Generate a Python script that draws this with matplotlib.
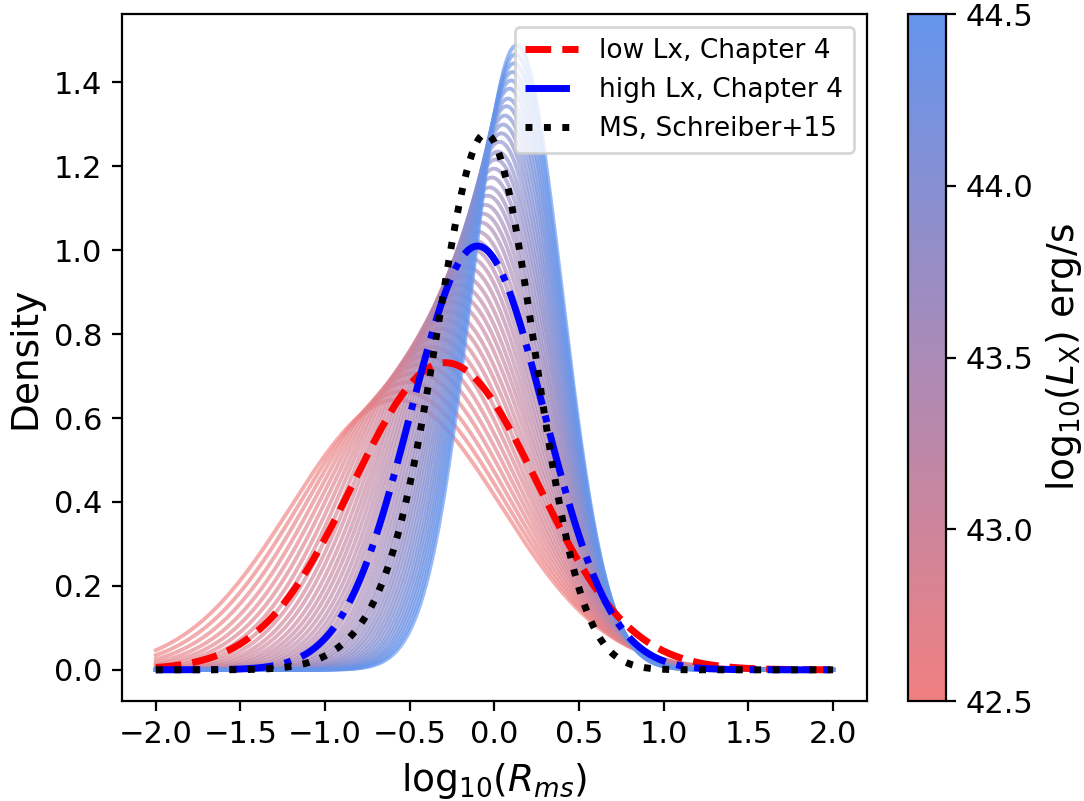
import numpy as np
import matplotlib
matplotlib.use("Agg")
import matplotlib.pyplot as plt
from matplotlib.colors import LinearSegmentedColormap, Normalize
from matplotlib.cm import ScalarMappable

# ---- data -------------------------------------------------------------
# family of model curves, one per log10(Lx) value
lx_values = [42.50, 42.55, 42.60, 42.65, 42.70, 42.75, 42.80, 42.85, 42.90, 42.95,
             43.00, 43.05, 43.10, 43.15, 43.20, 43.25, 43.30, 43.35, 43.40, 43.45,
             43.50, 43.55, 43.60, 43.65, 43.70, 43.75, 43.80, 43.85, 43.90, 43.95,
             44.00, 44.05, 44.10, 44.15, 44.20, 44.25, 44.30, 44.35, 44.40, 44.45,
             44.50]
# peak position (log10 Rms) of each curve
family_centre = [-0.580, -0.541, -0.504, -0.468, -0.435, -0.404, -0.374, -0.347, -0.320, -0.294,
                 -0.271, -0.248, -0.226, -0.206, -0.186, -0.167, -0.149, -0.132, -0.115, -0.100,
                 -0.084, -0.069, -0.055, -0.041, -0.029, -0.016, -0.003, 0.008, 0.019, 0.030,
                 0.041, 0.051, 0.061, 0.071, 0.080, 0.089, 0.098, 0.106, 0.115, 0.123,
                 0.131]
# width (dex) of each curve
family_width = [0.620, 0.601, 0.582, 0.564, 0.548, 0.533, 0.518, 0.504, 0.491, 0.478,
                0.467, 0.455, 0.445, 0.435, 0.425, 0.415, 0.406, 0.398, 0.390, 0.382,
                0.374, 0.367, 0.360, 0.353, 0.347, 0.340, 0.334, 0.328, 0.323, 0.317,
                0.312, 0.307, 0.302, 0.297, 0.293, 0.288, 0.284, 0.280, 0.276, 0.272,
                0.268]

# reference distributions
low_lx_centre, low_lx_width = -0.29, 0.545
high_lx_centre, high_lx_width = -0.10, 0.395
ms_centres = [-0.04, -0.50]
ms_widths = [0.28, 0.30]
ms_weights = [0.87, 0.09]

legend_labels = ["low Lx, Chapter 4", "high Lx, Chapter 4", "MS, Schreiber+15"]
x_ticks = [-2.0, -1.5, -1.0, -0.5, 0.0, 0.5, 1.0, 1.5, 2.0]
cbar_ticks = [42.5, 43.0, 43.5, 44.0, 44.5]


def gauss(x, mu, sigma, weight=1.0):
    return weight * np.exp(-0.5 * ((x - mu) / sigma) ** 2) / (sigma * np.sqrt(2 * np.pi))


# ---- figure -----------------------------------------------------------
plt.rcParams['font.family'] = ['DejaVu Sans']
fig = plt.figure(figsize=(5.42, 4.005), dpi=200)
ax = fig.add_axes([0.1125, 0.1248, 0.6873, 0.8577])
cax = fig.add_axes([0.8376, 0.1248, 0.035, 0.8577])

cmap = LinearSegmentedColormap.from_list("lx", ["lightcoral", "cornflowerblue"])
norm = Normalize(vmin=42.5, vmax=44.5)

x = np.linspace(-2, 2, 500)
for lx, mu, sig in zip(lx_values, family_centre, family_width):
    ax.plot(x, gauss(x, mu, sig), color=cmap(norm(lx)), alpha=0.65, lw=1.4)

ax.plot(x, gauss(x, low_lx_centre, low_lx_width), color="red", ls="--", lw=2.5,
        label=legend_labels[0])
ax.plot(x, gauss(x, high_lx_centre, high_lx_width), color="blue", ls="-.", lw=2.5,
        label=legend_labels[1])
ms = sum(gauss(x, m, s, w) for m, s, w in zip(ms_centres, ms_widths, ms_weights))
ax.plot(x, ms, color="black", ls=":", lw=2.5, label=legend_labels[2])

ax.set_xticks(x_ticks)
ax.tick_params(labelsize=11)
ax.set_xlabel(r"log$_{10}$($R_{ms}$)", fontsize=13.5)
ax.set_ylabel("Density", fontsize=13.5)
ax.legend(loc="upper right", fontsize=9.5)

cb = fig.colorbar(ScalarMappable(norm=norm, cmap=cmap), cax=cax)
cb.set_ticks(cbar_ticks)
cb.ax.tick_params(labelsize=11)
cb.set_label(r"log$_{10}$($L_{\rm X}$) erg/s", fontsize=13.5)

fig.savefig("out.png", dpi=200)
